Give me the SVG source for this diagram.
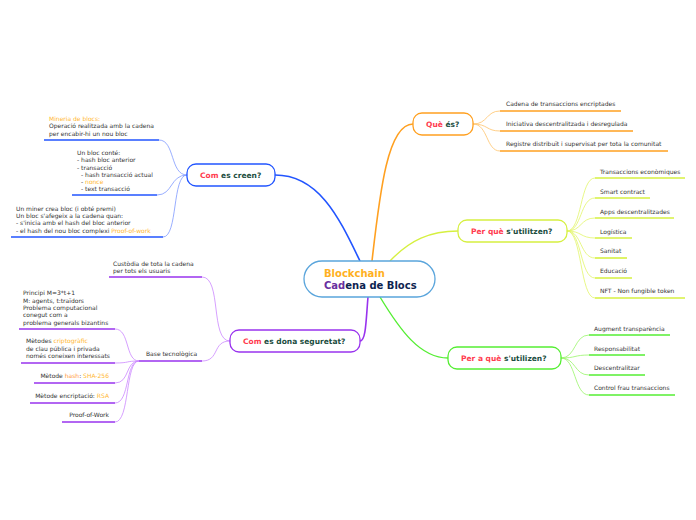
<svg xmlns="http://www.w3.org/2000/svg" width="696" height="520" viewBox="0 0 696 520">
<style>
.t{font-family:"DejaVu Sans",Verdana,sans-serif;font-size:6px;fill:#333}
.b{font-family:"DejaVu Sans",Verdana,sans-serif;font-size:7.5px;font-weight:bold}
.red{fill:#ff3b4e}
.grn{fill:#1b4d3e}
.or{fill:#ffb732}
.or2{fill:#ff9a3c}
.node{fill:#fff;stroke-width:1.3}
.c{fill:none}
</style>
<rect width="696" height="520" fill="#fff"/>
<g id="connectors" class="c">
  <path d="M360,261 C340,220 320,175 275,175" stroke="#2255ff" stroke-width="1.6"/>
  <path d="M372,261 C380,190 388,124 413,124" stroke="#ffa020" stroke-width="1.6"/>
  <path d="M390,261 C410,240 430,231 458,231" stroke="#d6f040" stroke-width="1.4"/>
  <path d="M380,297 C400,330 420,358 448,358" stroke="#55ee33" stroke-width="1.4"/>
  <path d="M368,297 C366,320 366,341 360,341" stroke="#9933ee" stroke-width="1.6"/>
  <g stroke="#ffc36a" stroke-width="0.8">
    <path d="M473,124 C488,124 486,111 500,111"/>
    <path d="M473,124 C488,124 486,131 500,131"/>
    <path d="M473,124 C488,124 486,151 500,151"/>
  </g>
  <g stroke="#e2f56a" stroke-width="0.8">
    <path d="M567,231 C582,231 580,178 595,178"/>
    <path d="M567,231 C582,231 580,198 595,198"/>
    <path d="M567,231 C582,231 580,218 595,218"/>
    <path d="M567,231 C582,231 580,238 595,238"/>
    <path d="M567,231 C582,231 580,258 595,258"/>
    <path d="M567,231 C582,231 580,278 595,278"/>
    <path d="M567,231 C582,231 580,298 595,298"/>
  </g>
  <g stroke="#99f56a" stroke-width="0.8">
    <path d="M561,358 C576,358 574,335 589,335"/>
    <path d="M561,358 C576,358 574,355 589,355"/>
    <path d="M561,358 C576,358 574,375 589,375"/>
    <path d="M561,358 C576,358 574,395 589,395"/>
  </g>
  <g stroke="#7f99ff" stroke-width="0.8">
    <path d="M187,175 C170,175 175,140 159,140"/>
    <path d="M187,175 C170,175 173,195 157,195"/>
    <path d="M187,175 C172,175 178,237 163,237"/>
  </g>
  <g stroke="#cc88ff" stroke-width="0.8">
    <path d="M230,341 C210,341 222,277 202,277"/>
    <path d="M230,341 C212,341 220,361 202,361"/>
    <path d="M139,361 C125,361 130,329 115,329"/>
    <path d="M139,361 C125,361 130,363 115,363"/>
    <path d="M139,361 C125,361 130,383 115,383"/>
    <path d="M139,361 C125,361 130,403 115,403"/>
    <path d="M139,361 C125,361 130,422 115,422"/>
  </g>
</g>
<g id="center">
  <rect x="304" y="261" width="131" height="36" rx="18" class="node" stroke="#5aa5dc"/>
  <text x="324" y="277" font-family="DejaVu Sans,Verdana,sans-serif" font-size="10" font-weight="bold" fill="#ffb020">Blockchain</text>
  <text x="324" y="289" font-family="DejaVu Sans,Verdana,sans-serif" font-size="10" font-weight="bold" fill="#0d2350"><tspan fill="#6a2fa0">Cad</tspan>ena de Blocs</text>
</g>
<g id="que-es">
  <rect x="413" y="113" width="60" height="22" rx="9" class="node" stroke="#ffa020"/>
  <text x="426" y="127" class="b"><tspan class="red">Què</tspan> <tspan class="grn">és?</tspan></text>
</g>
<g id="que-es-children" class="t">
  <text x="506" y="106">Cadena de transaccions encriptades</text>
  <text x="506" y="126">Iniciativa descentralitzada i desregulada</text>
  <text x="506" y="146">Registre distribuït i supervisat per tota la comunitat</text>
  <g stroke="#ffa020" stroke-width="1.6">
    <line x1="500" y1="111" x2="621" y2="111"/>
    <line x1="500" y1="131" x2="633" y2="131"/>
    <line x1="500" y1="151" x2="668" y2="151"/>
  </g>
</g>
<g id="per-que">
  <rect x="458" y="220" width="109" height="22" rx="9" class="node" stroke="#d6f040"/>
  <text x="471" y="234" class="b"><tspan class="red">Per què</tspan> <tspan class="grn">s'utilitzen?</tspan></text>
</g>
<g id="per-que-children" class="t">
  <text x="600" y="174">Transaccions econòmiques</text>
  <text x="600" y="194">Smart contract</text>
  <text x="600" y="214">Apps descentralitzades</text>
  <text x="600" y="234">Logística</text>
  <text x="600" y="253">Sanitat</text>
  <text x="600" y="273">Educació</text>
  <text x="600" y="293">NFT - Non fungible token</text>
  <g stroke="#d6f040" stroke-width="1.6">
    <line x1="595" y1="178" x2="685" y2="178"/>
    <line x1="595" y1="198" x2="650" y2="198"/>
    <line x1="595" y1="218" x2="674" y2="218"/>
    <line x1="595" y1="238" x2="632" y2="238"/>
    <line x1="595" y1="258" x2="627" y2="258"/>
    <line x1="595" y1="278" x2="632" y2="278"/>
    <line x1="595" y1="298" x2="685" y2="298"/>
  </g>
</g>
<g id="per-a-que">
  <rect x="448" y="347" width="113" height="22" rx="9" class="node" stroke="#55ee33"/>
  <text x="461" y="361" class="b"><tspan class="red">Per a què</tspan> <tspan class="grn">s'utilizen?</tspan></text>
</g>
<g id="per-a-que-children" class="t">
  <text x="594" y="331">Augment transparència</text>
  <text x="594" y="351">Responsabilitat</text>
  <text x="594" y="370">Descentralitzar</text>
  <text x="594" y="390">Control frau transaccions</text>
  <g stroke="#55ee33" stroke-width="1.6">
    <line x1="589" y1="335" x2="670" y2="335"/>
    <line x1="589" y1="355" x2="645" y2="355"/>
    <line x1="589" y1="375" x2="645" y2="375"/>
    <line x1="589" y1="395" x2="675" y2="395"/>
  </g>
</g>
<g id="com-es-creen">
  <rect x="187" y="164" width="88" height="22" rx="9" class="node" stroke="#2255ff"/>
  <text x="200" y="178" class="b"><tspan class="red">Com</tspan> <tspan class="grn">es creen?</tspan></text>
</g>
<g id="com-es-creen-children" class="t">
  <text x="49" y="121"><tspan class="or">Mineria de blocs:</tspan></text>
  <text x="49" y="128">Operació realitzada amb la cadena</text>
  <text x="49" y="135.5">per encabir-hi un nou bloc</text>
  <text x="77" y="155">Un bloc conté:</text>
  <text x="77" y="162">- hash bloc anterior</text>
  <text x="77" y="169.5">- transacció</text>
  <text x="81" y="177">- hash transacció actual</text>
  <text x="81" y="184">- <tspan class="or">nonce</tspan></text>
  <text x="81" y="191">- text transacció</text>
  <text x="16" y="210.5">Un miner crea bloc (i obté premi)</text>
  <text x="16" y="217.5">Un bloc s'afegeix a la cadena quan:</text>
  <text x="16" y="225">- s'inicia amb el hash del bloc anterior</text>
  <text x="16" y="232.5">- el hash del nou bloc complexi <tspan class="or">Proof-of-work</tspan></text>
  <g stroke="#2255ff" stroke-width="1.6">
    <line x1="44" y1="140" x2="159" y2="140"/>
    <line x1="72" y1="195" x2="157" y2="195"/>
    <line x1="11" y1="237" x2="163" y2="237"/>
  </g>
</g>
<g id="com-es-dona-seguretat">
  <rect x="230" y="330" width="130" height="22" rx="9" class="node" stroke="#9933ee"/>
  <text x="243" y="344" class="b"><tspan class="red">Com</tspan> <tspan class="grn">es dona seguretat?</tspan></text>
</g>
<g id="seguretat-children" class="t">
  <text x="113" y="266">Custòdia de tota la cadena</text>
  <text x="113" y="273">per tots els usuaris</text>
  <text x="146" y="355.5">Base tecnològica</text>
  <g stroke="#9933ee" stroke-width="1.6">
    <line x1="109" y1="277" x2="202" y2="277"/>
    <line x1="139" y1="361" x2="202" y2="361"/>
  </g>
</g>
<g id="base-tecnologica-children" class="t">
  <text x="23" y="295">Principi M=3*t+1</text>
  <text x="23" y="302.5">M: agents, t:traïdors</text>
  <text x="23" y="310">Problema computacional</text>
  <text x="23" y="317">conegut com a</text>
  <text x="23" y="324.5">problema generals bizantins</text>
  <text x="26" y="343">Mètodes <tspan class="or">criptogràfic</tspan></text>
  <text x="26" y="351">de clau pública i privada</text>
  <text x="26" y="358">només coneixen interessats</text>
  <text x="109" y="378" text-anchor="end">Mètode <tspan class="or2">hash</tspan>: <tspan class="or">SHA-256</tspan></text>
  <text x="109" y="398" text-anchor="end">Mètode encriptació: <tspan class="or">RSA</tspan></text>
  <text x="109" y="416.5" text-anchor="end">Proof-of-Work</text>
  <g stroke="#9933ee" stroke-width="1.6">
    <line x1="19" y1="329" x2="115" y2="329"/>
    <line x1="21" y1="363" x2="115" y2="363"/>
    <line x1="34" y1="383" x2="115" y2="383"/>
    <line x1="30" y1="403" x2="115" y2="403"/>
    <line x1="62" y1="422" x2="115" y2="422"/>
  </g>
</g>
</svg>
